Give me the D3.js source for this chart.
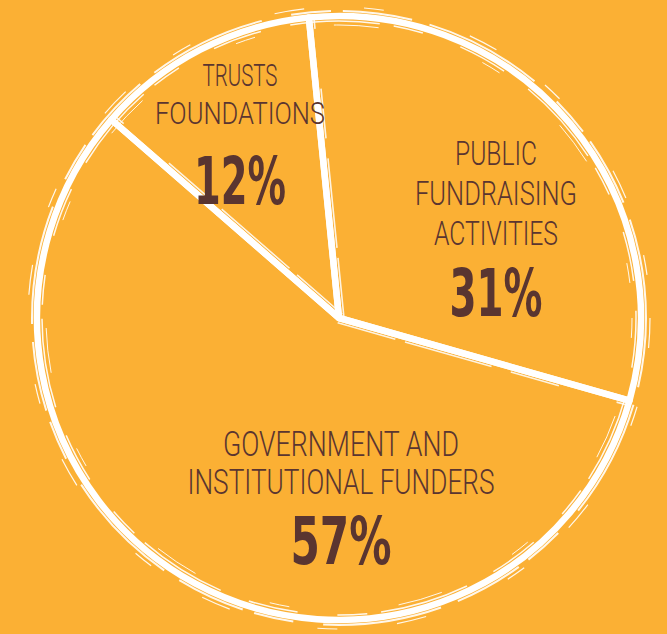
<!DOCTYPE html>
<html>
<head>
<meta charset="utf-8">
<script src="https://cdn.jsdelivr.net/npm/d3@7"></script>
<style>
  html, body { margin: 0; padding: 0; background: #fbb034; }
  svg { display: block; }
</style>
</head>
<body>
<div id="chart"></div>
<script>
// funding sources, clockwise from the top
const categories = ["Public fundraising activities", "Government and institutional funders", "Trusts foundations"];
const labelLines = [["PUBLIC", "FUNDRAISING", "ACTIVITIES"], ["GOVERNMENT AND", "INSTITUTIONAL FUNDERS"], ["TRUSTS", "FOUNDATIONS"]];
const shares = [31, 57, 12];

const width = 667, height = 634;
const cx = 339, cy = 318, radius = 302;
const ink = "#5a3530";
const labelFont = "Roboto, 'DejaVu Sans Condensed', sans-serif";
const pctFont = "'DejaVu Sans Condensed', 'DejaVu Sans', sans-serif";

// label placement relative to the pie centre (x centre, baselines, widths)
const labelLayout = [
  { x: 157, size: 34, base: [-153, -113, -73], widths: [82, 162, 124], pctBase: -2, pctWidth: 93 },
  { x: 2, size: 35, base: [138, 176], widths: [236, 307], pctBase: 246, pctWidth: 101 },
  { x: -99, size: 32, base: [-232, -194], widths: [75, 170], pctBase: -114, pctWidth: 92 }
];

const svg = d3.select("#chart").append("svg")
    .attr("width", width)
    .attr("height", height);

svg.append("rect")
    .attr("width", width)
    .attr("height", height)
    .attr("fill", "#fbb034");

const g = svg.append("g").attr("transform", "translate(" + cx + "," + cy + ")");

const start = -0.1;
const pie = d3.pie().sort(null).value(d => d)
    .startAngle(start).endAngle(start + 2 * Math.PI);
const arcs = pie(shares);

const arc = d3.arc().innerRadius(0).outerRadius(radius);

// main brush stroke
g.append("g")
  .selectAll("path")
  .data(arcs)
  .enter().append("path")
    .attr("d", arc)
    .attr("fill", "none")
    .attr("stroke", "#fff")
    .attr("stroke-width", 6.5)
    .attr("stroke-linejoin", "round");

// rough extra strokes around the rim to fake the brush texture
const rough = [
  { dr: 5, w: 2, dash: "70 18 120 30 40 12" },
  { dr: -5, w: 1.5, dash: "50 30 90 14 30 40" },
  { dr: 9, w: 1.2, dash: "30 60 20 90" },
  { dr: -9, w: 1, dash: "20 80 45 110" }
];
g.append("g")
  .selectAll("circle")
  .data(rough)
  .enter().append("circle")
    .attr("r", d => radius + d.dr)
    .attr("fill", "none")
    .attr("stroke", "#fff")
    .attr("stroke-width", d => d.w)
    .attr("stroke-dasharray", d => d.dash)
    .attr("opacity", 0.9);

// thin second line beside each radial cut
g.append("g")
  .selectAll("line")
  .data(arcs)
  .enter().append("line")
    .attr("x1", d => 5 * Math.cos(d.startAngle))
    .attr("y1", d => 5 * Math.sin(d.startAngle))
    .attr("x2", d => (radius + 6) * Math.sin(d.startAngle) + 5 * Math.cos(d.startAngle))
    .attr("y2", d => -(radius + 6) * Math.cos(d.startAngle) + 5 * Math.sin(d.startAngle))
    .attr("stroke", "#fff")
    .attr("stroke-width", 1.6)
    .attr("stroke-dasharray", "60 10 90 20 50")
    .attr("opacity", 0.85);

// labels
const labels = g.append("g")
  .selectAll("g")
  .data(arcs)
  .enter().append("g")
    .attr("fill", ink)
    .attr("text-anchor", "middle");

labels.each(function(d, i) {
  const L = labelLayout[i];
  const sel = d3.select(this);
  labelLines[i].forEach((line, j) => {
    sel.append("text")
        .attr("x", L.x)
        .attr("y", L.base[j])
        .attr("font-family", labelFont)
        .attr("font-weight", 300)
        .attr("font-size", L.size)
        .attr("textLength", L.widths[j])
        .attr("lengthAdjust", "spacingAndGlyphs")
        .text(line);
  });
  sel.append("text")
      .attr("x", L.x)
      .attr("y", L.pctBase)
      .attr("font-family", pctFont)
      .attr("font-size", 66)
      .attr("font-weight", 700)
      .attr("textLength", L.pctWidth)
      .attr("lengthAdjust", "spacingAndGlyphs")
      .text(shares[i] + "%");
});
</script>
</body>
</html>
